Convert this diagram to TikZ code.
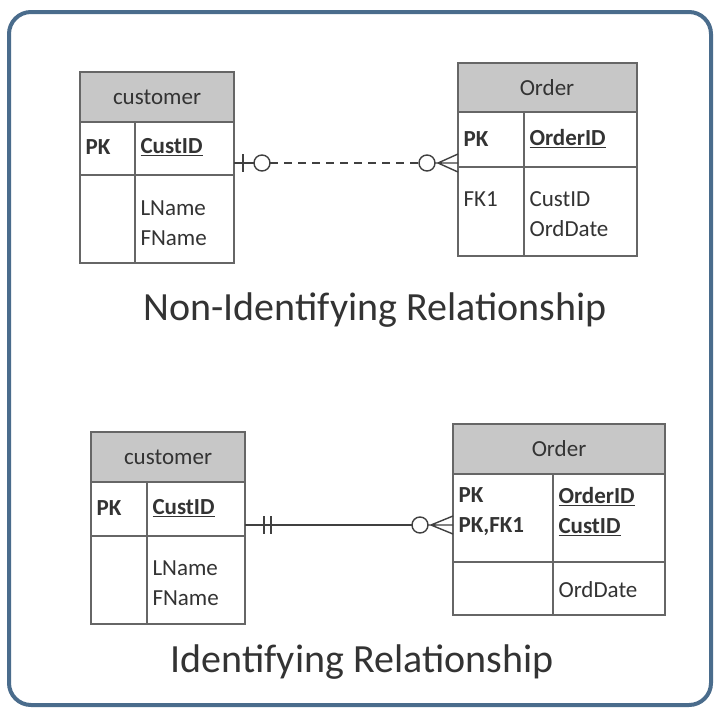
\documentclass[tikz,border=0pt]{standalone}
\usepackage{fontspec}
\setmainfont{Carlito}
\begin{document}
\begin{tikzpicture}[x=1pt,y=-1pt,
  ln/.style={draw=black!60,line width=1.6pt},
  hdr/.style={ln,fill=black!22},
  t/.style={font=\fontsize{23}{30}\selectfont,text=black!80,anchor=west,align=left},
  tb/.style={t,font=\fontsize{23}{30}\selectfont\bfseries},
  hd/.style={font=\fontsize{23}{30}\selectfont,text=black!80},
  title/.style={font=\fontsize{40}{46}\selectfont,text=black!80},
  rel/.style={draw=black!75,line width=1.4pt}]
\useasboundingbox (0,0) rectangle (720,715);
\fill[white] (0,0) rectangle (720,715);
\draw[draw={rgb,255:red,74;green,108;blue,140},line width=4pt,rounded corners=22pt] (9,12) rectangle (711,705);
% top customer
\draw[hdr] (80,72) rectangle (234,122);
\draw[ln] (80,122) rectangle (234,263) (80,175) -- (234,175) (135,122) -- (135,263);
\node[hd] (c1) at (157,97) {customer};
\node[tb] (c1pk) at (82,147) {PK};
\node[tb] (c1id) at (137,147) {\underline{CustID}};
\node[t] (c1a) at (137,223) {LName\\FName};
% top order
\draw[hdr] (458,63) rectangle (637,112);
\draw[ln] (458,112) rectangle (637,256) (458,167) -- (637,167) (524,112) -- (524,256);
\node[hd] (o1) at (547,88) {Order};
\node[tb] (o1pk) at (460,139) {PK};
\node[tb] (o1id) at (526,139) {\underline{OrderID}};
\node[t] (o1fk) at (460,199) {FK1};
\node[t] (o1a) at (526,214) {CustID\\OrdDate};
% top relation
\coordinate (r1a) at (234,163);
\coordinate (r1b) at (458,163);
\draw[rel,dash pattern=on 8pt off 6pt] (270,163) -- (419,163);
\draw[rel] (r1a) -- (254,163);
\draw[rel] (243,154) -- (243,172);
\draw[rel] (262,163) circle (8);
\draw[rel] (427,163) circle (8);
\draw[rel] (435,163) -- (r1b) (458,154) -- (438,163) -- (458,172);
\node[title] (n1) at (375,310) {Non-Identifying Relationship};
% bottom customer
\draw[hdr] (91,432) rectangle (245,482);
\draw[ln] (91,482) rectangle (245,624) (91,536) -- (245,536) (147,482) -- (147,624);
\node[hd] (c2) at (168,457) {customer};
\node[tb] (c2pk) at (93,508) {PK};
\node[tb] (c2id) at (149,508) {\underline{CustID}};
\node[t] (c2a) at (149,583) {LName\\FName};
% bottom order
\draw[hdr] (453,424) rectangle (665,474);
\draw[ln] (453,474) rectangle (665,615) (453,562) -- (665,562) (553,474) -- (553,615);
\node[hd] (o2) at (559,449) {Order};
\node[tb] (o2pk) at (455,512) {PK\\PK,FK1};
\node[tb] (o2id) at (555,512) {\underline{OrderID}\\\underline{CustID}};
\node[t] (o2a) at (555,590) {OrdDate};
% bottom relation
\coordinate (r2a) at (245,525);
\coordinate (r2b) at (453,525);
\draw[rel] (r2a) -- (412,525);
\draw[rel] (264,516) -- (264,534) (271,516) -- (271,534);
\draw[rel] (420,525) circle (8);
\draw[rel] (428,525) -- (r2b) (453,516) -- (431,525) -- (453,534);
\node[title] (n2) at (362,662) {Identifying Relationship};
\end{tikzpicture}
\end{document}
